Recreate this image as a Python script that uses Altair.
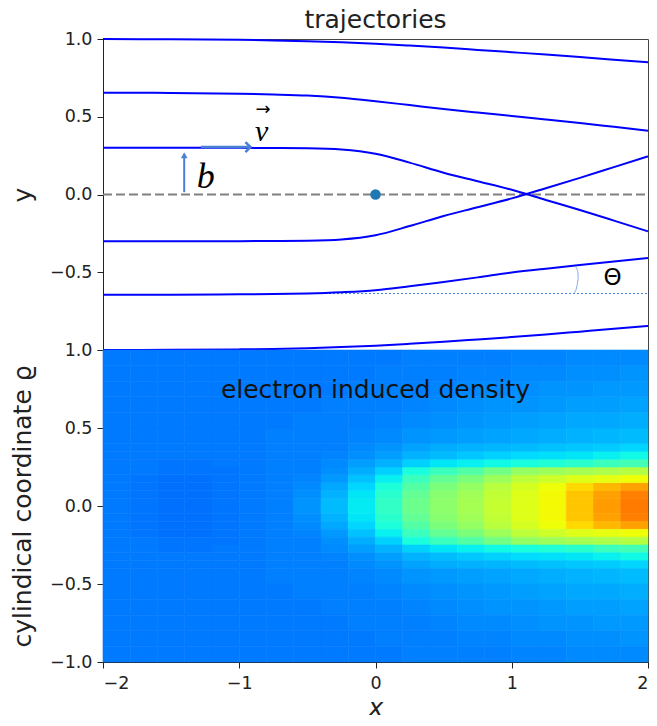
import altair as alt
import pandas as pd

# ---------------- top panel: trajectories ----------------
traj_x = [-2.0, -1.5, -1.0, -0.75, -0.5, -0.25, 0.0, 0.25, 0.5, 0.75, 1.0, 1.25, 1.5, 1.75, 2.0]
traj_b1 = [1.0, 0.998, 0.995, 0.991, 0.986, 0.979, 0.970, 0.958, 0.945, 0.930, 0.915, 0.900, 0.884, 0.867, 0.850]
traj_b2 = [0.655, 0.653, 0.648, 0.643, 0.636, 0.622, 0.600, 0.575, 0.550, 0.527, 0.505, 0.483, 0.460, 0.435, 0.410]
traj_b3 = [0.300, 0.300, 0.300, 0.299, 0.297, 0.289, 0.262, 0.205, 0.140, 0.085, 0.030, -0.035, -0.100, -0.168, -0.237]
traj_b4 = [-0.300, -0.300, -0.300, -0.299, -0.297, -0.289, -0.262, -0.203, -0.138, -0.082, -0.025, 0.040, 0.107, 0.176, 0.245]
traj_b5 = [-0.645, -0.644, -0.642, -0.640, -0.636, -0.628, -0.615, -0.590, -0.562, -0.533, -0.502, -0.477, -0.454, -0.431, -0.408]
traj_b6 = [-1.0, -0.999, -0.996, -0.993, -0.988, -0.981, -0.972, -0.960, -0.947, -0.932, -0.917, -0.900, -0.882, -0.864, -0.845]
traj_series = [traj_b1, traj_b2, traj_b3, traj_b4, traj_b5, traj_b6]

axis_line_x = [-2.0, 2.0]          # dashed symmetry axis y = 0
axis_line_y = 0.0
theta_ref_x = [-0.4, 2.0]          # dotted reference line for the angle
theta_ref_y = -0.637
theta_arc_x = [1.455, 1.478, 1.488, 1.486, 1.470]
theta_arc_y = [-0.637, -0.592, -0.545, -0.505, -0.465]
scatter_x = [0.0]
scatter_y = [0.0]

b_arrow_x = -1.404
b_arrow_y = [0.015, 0.262]
b_head_y = 0.252
v_arrow_x = [-1.282, -0.918]
v_arrow_y = 0.305

labels_txt = ["b", "v", "\u2192", "\u0398"]
labels_x = [-1.246, -0.836, -0.826, 1.74]
labels_y = [0.112, 0.405, 0.545, -0.535]

# ---------------- bottom panel: electron induced density ----------------
dens_x_edges = [-2.0, -1.8, -1.6, -1.4, -1.2, -1.0, -0.8, -0.6, -0.4, -0.2, 0.0,
                0.2, 0.4, 0.6, 0.8, 1.0, 1.2, 1.4, 1.6, 1.8, 2.0]
dens_rho_edges = [0.0, 0.05, 0.1, 0.15, 0.2, 0.25, 0.3, 0.35, 0.4, 0.5, 0.6, 0.7, 0.8, 0.9, 1.0]
# colour level (jet colormap position) per rho band (rows, from axis outward) and x cell (columns)
dens_rows = [
    [.245, .24, .235, .235, .24, .245, .25, .27, .31, .355, .41, .48, .52, .55, .59, .62, .645, .70, .745, .78],
    [.245, .24, .235, .235, .24, .245, .25, .265, .30, .35, .40, .47, .515, .545, .585, .62, .645, .70, .74, .775],
    [.245, .24, .235, .235, .24, .245, .25, .26, .29, .335, .385, .45, .50, .53, .575, .61, .64, .68, .715, .74],
    [.245, .24, .235, .235, .24, .245, .25, .255, .275, .315, .36, .42, .47, .50, .54, .58, .60, .62, .63, .64],
    [.245, .245, .24, .24, .24, .245, .25, .25, .265, .295, .33, .38, .42, .45, .49, .53, .54, .55, .56, .57],
    [.245, .245, .24, .24, .245, .245, .25, .25, .26, .28, .30, .33, .35, .36, .37, .38, .39, .40, .42, .43],
    [.245, .245, .245, .245, .245, .245, .25, .25, .255, .265, .28, .30, .31, .32, .33, .34, .345, .35, .36, .37],
    [.245, .245, .245, .245, .245, .245, .25, .25, .25, .26, .27, .285, .295, .30, .305, .31, .315, .32, .325, .335],
    [.245, .245, .245, .245, .245, .245, .25, .25, .25, .255, .26, .27, .275, .28, .285, .29, .295, .30, .305, .31],
    [.245, .245, .245, .245, .245, .245, .245, .25, .25, .25, .255, .26, .265, .27, .275, .28, .285, .29, .29, .295],
    [.245, .245, .245, .245, .245, .245, .245, .245, .25, .25, .25, .255, .26, .265, .27, .27, .275, .28, .28, .285],
    [.245, .245, .245, .245, .245, .245, .245, .245, .245, .25, .25, .25, .255, .26, .26, .265, .27, .27, .275, .275],
    [.245, .245, .245, .245, .245, .245, .245, .245, .245, .245, .25, .25, .25, .255, .255, .26, .26, .265, .265, .27],
    [.245, .245, .245, .245, .245, .245, .245, .245, .245, .245, .245, .25, .25, .25, .25, .255, .255, .26, .26, .26],
]

# matplotlib "jet" colormap anchor points
jet_pos = [0.0, 0.11, 0.125, 0.34, 0.35, 0.375, 0.64, 0.65, 0.66, 0.89, 0.91, 1.0]
jet_col = ["#000080", "#0000ff", "#0000ff", "#00dbff", "#00e6f7", "#15ffe2",
           "#eeff08", "#f7f500", "#ffec00", "#ff1300", "#e80000", "#800000"]

# ---------------- tables ----------------
traj_df = pd.DataFrame([
    {"line": k, "x": xv, "y": yv}
    for k, ys in enumerate(traj_series) for xv, yv in zip(traj_x, ys)
])
dash_df = pd.DataFrame({"x0": [axis_line_x[0]], "x1": [axis_line_x[1]], "y": [axis_line_y]})
thref_df = pd.DataFrame({"x0": [theta_ref_x[0]], "x1": [theta_ref_x[1]], "y": [theta_ref_y]})
arc_df = pd.DataFrame({"x": theta_arc_x, "y": theta_arc_y, "o": list(range(len(theta_arc_x)))})
dot_df = pd.DataFrame({"x": scatter_x, "y": scatter_y})
barrow_df = pd.DataFrame({"x": [b_arrow_x], "y0": [b_arrow_y[0]], "y1": [b_arrow_y[1]]})
bhead_df = pd.DataFrame({"x": [b_arrow_x], "y": [b_head_y]})
varrow_df = pd.DataFrame({"x0": [v_arrow_x[0]], "x1": [v_arrow_x[1]], "y": [v_arrow_y]})
vhead_df = pd.DataFrame({"x": [v_arrow_x[1]], "y": [v_arrow_y]})
lab_df = pd.DataFrame({"t": labels_txt, "x": labels_x, "y": labels_y})

cells = []
for i in range(len(dens_rho_edges) - 1):
    for j in range(len(dens_x_edges) - 1):
        v = dens_rows[i][j]
        r0, r1 = dens_rho_edges[i], dens_rho_edges[i + 1]
        x0, x1 = dens_x_edges[j], dens_x_edges[j + 1]
        cells.append({"x0": x0, "x1": x1, "r0": r0, "r1": r1, "t": v})
        cells.append({"x0": x0, "x1": x1, "r0": -r1, "r1": -r0, "t": v})
dens_df = pd.DataFrame(cells)
dens_title_df = pd.DataFrame({"t": ["electron induced density"], "x": [0.0], "y": [0.745]})

# ---------------- encodings ----------------
FONT = "DejaVu Sans"
PANEL_W = 545
xscale = alt.Scale(domain=[-2, 2], nice=False, zero=False)
yscale = alt.Scale(domain=[-1, 1], nice=False, zero=False)
top_yaxis = alt.Axis(values=[-0.5, 0.0, 0.5, 1.0], format=".1f", title="y",
                     titleX=-81, titleBaseline="middle", titleFontWeight="normal")
bot_yaxis = alt.Axis(values=[-1.0, -0.5, 0.0, 0.5, 1.0], format=".1f",
                     title="cylindical coordinate \u03f1",
                     titleX=-81, titleBaseline="middle", titleFontWeight="normal")
bot_xaxis = alt.Axis(values=[-2, -1, 0, 1, 2], format="d", title="x",
                     titleFontStyle="italic", titleFontWeight="normal", titlePadding=4)


def TX(f):
    return alt.X(f, type="quantitative", scale=xscale, axis=None)


def TY(f):
    return alt.Y(f, type="quantitative", scale=yscale, axis=top_yaxis)


BLUE = "#0000ff"
ARROW = "#4a7fd8"

dashed = alt.Chart(dash_df).mark_rule(color="#808080", strokeWidth=2, strokeDash=[9, 4]).encode(
    x=TX("x0"), x2="x1", y=TY("y"))
thref = alt.Chart(thref_df).mark_rule(color="#3d7fe0", strokeWidth=1, strokeDash=[2, 2]).encode(
    x=TX("x0"), x2="x1", y=TY("y"))
lines = alt.Chart(traj_df).mark_line(color=BLUE, strokeWidth=2, interpolate="monotone").encode(
    x=TX("x"), y=TY("y"), detail="line:N")
arc = alt.Chart(arc_df).mark_line(color="#7aa7e0", strokeWidth=1, interpolate="monotone").encode(
    x=TX("x"), y=TY("y"), order="o:Q")
dot = alt.Chart(dot_df).mark_point(filled=True, color="#1f77b4", size=110, opacity=1).encode(
    x=TX("x"), y=TY("y"))
bshaft = alt.Chart(barrow_df).mark_rule(color=ARROW, strokeWidth=2).encode(
    x=TX("x"), y=TY("y0"), y2="y1")
bhead = alt.Chart(bhead_df).mark_point(shape="triangle-up", filled=True, color=ARROW, size=45, opacity=1).encode(
    x=TX("x"), y=TY("y"))
vshaft = alt.Chart(varrow_df).mark_rule(color=ARROW, strokeWidth=2.5).encode(
    x=TX("x0"), x2="x1", y=TY("y"))
vhead = alt.Chart(vhead_df).mark_point(shape="M -1 -1 L 0 0 L -1 1", filled=False, color=ARROW,
                                        strokeWidth=2.5, size=100, opacity=1).encode(
    x=TX("x"), y=TY("y"))
lab_b = alt.Chart(lab_df.iloc[[0]]).mark_text(font="Liberation Serif", fontStyle="italic", fontSize=36,
                                              color="black").encode(x=TX("x"), y=TY("y"), text="t:N")
lab_v = alt.Chart(lab_df.iloc[[1]]).mark_text(font="Liberation Serif", fontStyle="italic", fontSize=30,
                                              color="black").encode(x=TX("x"), y=TY("y"), text="t:N")
lab_va = alt.Chart(lab_df.iloc[[2]]).mark_text(font=FONT, fontSize=18, color="black").encode(
    x=TX("x"), y=TY("y"), text="t:N")
lab_th = alt.Chart(lab_df.iloc[[3]]).mark_text(font=FONT, fontSize=23, color="black").encode(
    x=TX("x"), y=TY("y"), text="t:N")

top = alt.layer(thref, dashed, lines, arc, dot, bshaft, bhead, vshaft, vhead,
                lab_b, lab_v, lab_va, lab_th).properties(
    width=PANEL_W, height=311,
    title=alt.TitleParams("trajectories", fontSize=25, font=FONT, fontWeight="normal",
                          color="#222", offset=-3, anchor="middle"))

jet = alt.Scale(domain=jet_pos, range=jet_col, interpolate="rgb")
heat = alt.Chart(dens_df).mark_rect(strokeWidth=0.6).encode(
    x=alt.X("x0:Q", scale=xscale, axis=bot_xaxis),
    x2="x1",
    y=alt.Y("r0:Q", scale=yscale, axis=bot_yaxis),
    y2="r1",
    color=alt.Color("t:Q", scale=jet, legend=None),
    stroke=alt.Color("t:Q", scale=jet, legend=None),
)
heat_title = alt.Chart(dens_title_df).mark_text(font=FONT, fontSize=25, color="#111").encode(
    x=alt.X("x:Q", scale=xscale, axis=bot_xaxis),
    y=alt.Y("y:Q", scale=yscale, axis=bot_yaxis),
    text="t:N")
bottom = alt.layer(heat, heat_title).properties(width=PANEL_W, height=312)

chart = alt.vconcat(top, bottom, spacing=0, bounds="flush").properties(
    padding={"left": 1, "top": -1, "right": -4, "bottom": -6}
).configure_view(
    stroke="#444", strokeWidth=1
).configure_axis(
    labelFont=FONT, labelFontSize=17.5, labelColor="#222",
    titleFont=FONT, titleFontSize=25, titleColor="#222",
    tickSize=6, tickColor="#222", domainColor="#222", labelPadding=5, grid=False,
).configure_axisBottom(labelPadding=6)

chart.save("out.html", embed_options={"renderer": "svg", "actions": False})
